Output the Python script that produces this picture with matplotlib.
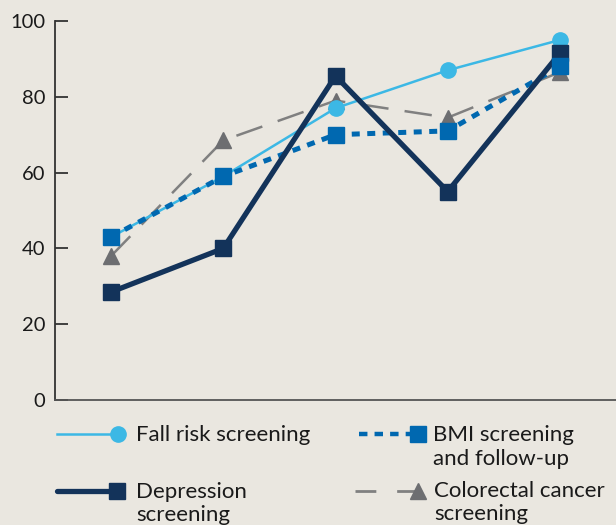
import matplotlib
matplotlib.use("Agg")
import matplotlib.pyplot as plt
from matplotlib.lines import Line2D

plt.rcParams['font.family'] = ['Lato', 'DejaVu Sans']

# data
x = [1, 2, 3, 4, 5]
fall_risk = [43, 59, 77, 87, 95]
bmi = [43, 59, 70, 71, 88]
depression = [28.5, 40, 85.5, 55, 91.5]
colorectal = [38, 68.5, 79, 74.5, 86.5]
y_ticks = [0, 20, 40, 60, 80, 100]

bg = '#eae7e0'
c_fall = '#3cb8e5'
c_bmi = '#0068b0'
c_dep = '#13335a'
c_col = '#808080'
c_col_mk = '#6d6e71'

W, H = 616, 525
fig = plt.figure(figsize=(W / 100, H / 100), dpi=100, facecolor=bg)
ax = fig.add_axes([55 / W, 1 - 400 / H, 1 - 55 / W, (400 - 21) / H])
ax.set_facecolor(bg)

ax.plot(x, colorectal, color=c_col, lw=1.8, dashes=(11, 6.5), marker='^',
        ms=12, mfc=c_col_mk, mec=c_col_mk, zorder=2)
ax.plot(x, fall_risk, color=c_fall, lw=1.8, marker='o', ms=11,
        mfc=c_fall, mec=c_fall, zorder=3)
# BMI line sits under the depression line, its markers on top
ax.plot(x, bmi, color=c_bmi, lw=3.6, dashes=(1.6, 1.5), zorder=3.5)
ax.plot(x, depression, color=c_dep, lw=3.8, marker='s', ms=12,
        mfc=c_dep, mec=c_dep, zorder=4, solid_joinstyle='miter')
ax.plot(x, bmi, ls='none', marker='s', ms=12, mfc=c_bmi, mec=c_bmi, zorder=5)

ax.set_xlim(0.5, 5.5)
ax.set_ylim(0, 100)
ax.set_xticks([])
ax.set_yticks(y_ticks)
ax.tick_params(axis='y', direction='in', length=9, width=1.3, color='#333333',
               labelsize=14.5, labelcolor='#1a1a1a', pad=7)
for s in ['top', 'right']:
    ax.spines[s].set_visible(False)
ax.spines['left'].set_color('#333333')
ax.spines['left'].set_linewidth(1.3)
ax.spines['bottom'].set_color('#555555')
ax.spines['bottom'].set_linewidth(1.3)


# legend drawn by hand in pixel positions
def fx(px):
    return px / W


def fy(py):
    return 1 - py / H


def handle(x0, x1, yp, **kw):
    ln = Line2D([fx(x0), fx(x1)], [fy(yp), fy(yp)], transform=fig.transFigure,
                markevery=[1], **kw)
    fig.add_artist(ln)


handle(57, 118, 434, color=c_fall, lw=1.8, marker='o', ms=11,
       mfc=c_fall, mec=c_fall)
handle(57, 117, 491, color=c_dep, lw=3.8, marker='s', ms=12,
       mfc=c_dep, mec=c_dep, solid_capstyle='round')
handle(359, 418, 434, color=c_bmi, lw=3.2, dashes=(1.9, 1.6), marker='s',
       ms=12, mfc=c_bmi, mec=c_bmi)
handle(355, 418, 491, color=c_col, lw=2.0, dashes=(7.5, 7.5), marker='^',
       ms=12, mfc=c_col_mk, mec=c_col_mk)

tkw = dict(fontsize=16, color='#1a1a1a', va='baseline', ha='left')
fig.text(fx(136), fy(441), 'Fall risk screening', **tkw)
fig.text(fx(433), fy(441), 'BMI screening', **tkw)
fig.text(fx(433), fy(465), 'and follow-up', **tkw)
fig.text(fx(136), fy(498), 'Depression', **tkw)
fig.text(fx(136), fy(521), 'screening', **tkw)
fig.text(fx(434), fy(497), 'Colorectal cancer', **tkw)
fig.text(fx(434), fy(520), 'screening', **tkw)

fig.savefig('out.png', dpi=100, facecolor=bg)
